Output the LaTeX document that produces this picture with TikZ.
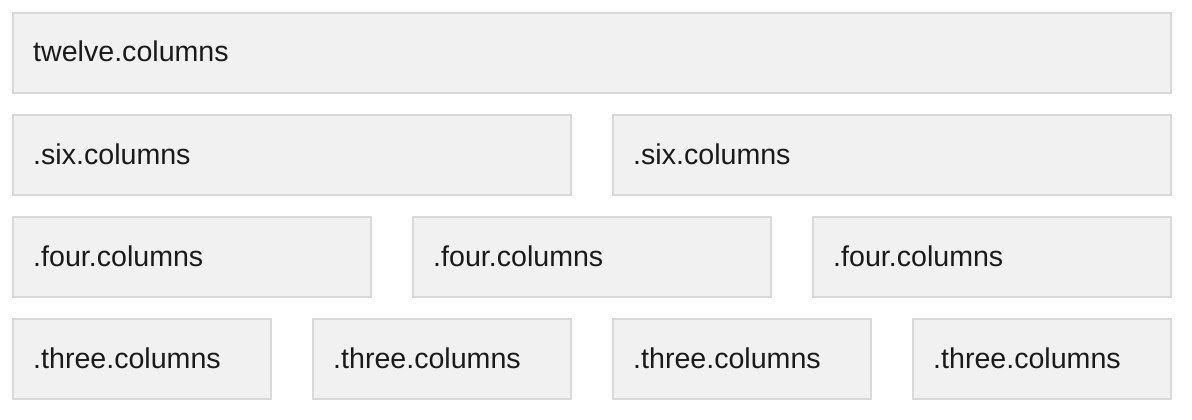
\documentclass[tikz,border=0pt]{standalone}
\usepackage{fontspec}
\setmainfont{Liberation Sans}
\definecolor{boxfill}{HTML}{F1F1F1}
\definecolor{boxline}{HTML}{D9D9D9}
\definecolor{txt}{HTML}{1A1A1A}
\begin{document}
\begin{tikzpicture}[x=1pt,y=-1pt,
  col/.style={draw=boxline,fill=boxfill,line width=2pt},
  lbl/.style={anchor=base west,inner sep=0pt,text=txt,font=\fontsize{28.6}{32}\selectfont}]
\useasboundingbox (0,0) rectangle (1192,420);
% row 1
\draw[col] (13,13) rectangle (1171,93);
\node[lbl] (t12) at (33,62) {twelve.columns};
% row 2
\foreach \i in {0,1}{
  \pgfmathsetmacro\xa{12+\i*600}
  \draw[col] (\xa+1,115) rectangle (\xa+559,195);
  \node[lbl] (s\i) at (\xa+21,164) {.six.columns};
}
% row 3
\foreach \i in {0,1,2}{
  \pgfmathsetmacro\xa{12+\i*400}
  \draw[col] (\xa+1,217) rectangle (\xa+359,297);
  \node[lbl] (f\i) at (\xa+21,266) {.four.columns};
}
% row 4
\foreach \i in {0,1,2,3}{
  \pgfmathsetmacro\xa{12+\i*300}
  \draw[col] (\xa+1,319) rectangle (\xa+259,399);
  \node[lbl] (h\i) at (\xa+21,368) {.three.columns};
}
\end{tikzpicture}
\end{document}
